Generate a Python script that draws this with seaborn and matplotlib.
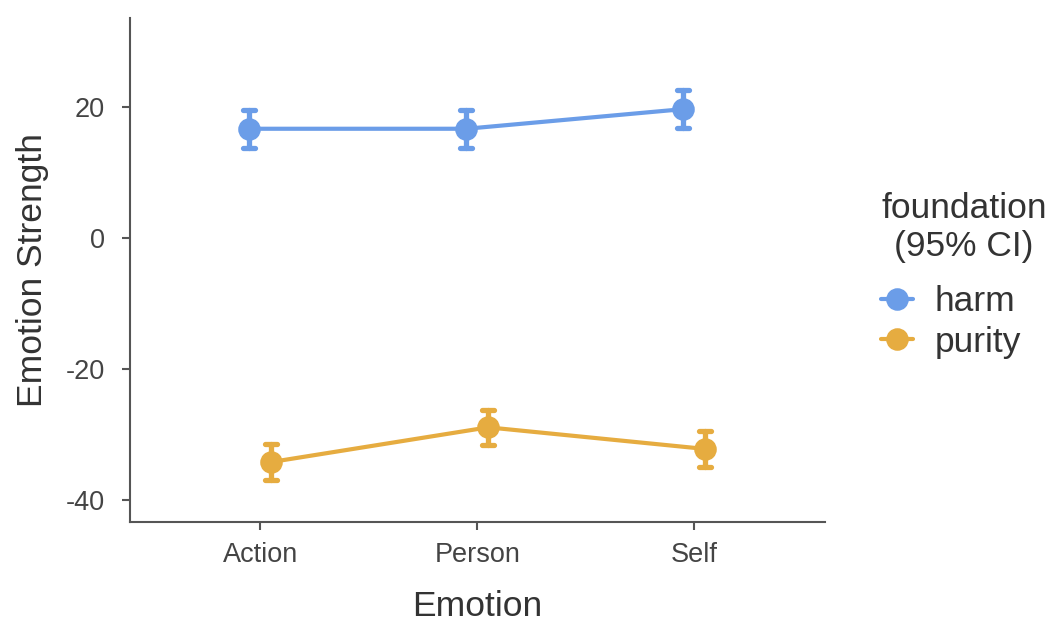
import matplotlib
matplotlib.use("Agg")
import matplotlib.pyplot as plt
import seaborn as sns
import pandas as pd

# Estimated marginal means and 95% CI half-widths
emotions = ["Action", "Person", "Self"]
foundations = ["harm", "purity"]
harm_means = [16.7, 16.7, 19.7]
harm_ci = [2.9, 2.9, 2.9]
purity_means = [-34.2, -28.9, -32.2]
purity_ci = [2.7, 2.7, 2.7]
palette = {"harm": "#6B9DE8", "purity": "#E6AC40"}

# Long table: lower bound, mean, upper bound per cell (median = mean, range = CI)
rows = []
for name, means, cis in [("harm", harm_means, harm_ci), ("purity", purity_means, purity_ci)]:
    for emo, m, c in zip(emotions, means, cis):
        for v in (m - c, m, m + c):
            rows.append({"Emotion": emo, "foundation": name, "value": v})
df = pd.DataFrame(rows)

sns.set_theme(style="ticks")
plt.rcParams["font.family"] = ["Liberation Sans", "DejaVu Sans"]
plt.rcParams["axes.unicode_minus"] = False

fig = plt.figure(figsize=(10.49, 6.24), dpi=100)
ax = fig.add_axes([0.124, 0.163, 0.662, 0.808])

sns.pointplot(
    data=df, x="Emotion", y="value", hue="foundation",
    order=emotions, hue_order=foundations, palette=palette,
    estimator="median", errorbar=("pi", 100), dodge=0.1,
    markers="o", markersize=14, linewidth=3,
    err_kws={"linewidth": 3.8}, capsize=0.055, ax=ax,
)

ax.set_xlim(-0.6, 2.6)
ax.set_ylim(-43.4, 33.6)
ax.set_yticks([-40, -20, 0, 20])
ax.set_xlabel("Emotion", fontsize=25.5, color="#333333", labelpad=16)
ax.set_ylabel("Emotion Strength", fontsize=25.5, color="#333333", labelpad=12)

for side in ("top", "right"):
    ax.spines[side].set_visible(False)
for side in ("left", "bottom"):
    ax.spines[side].set_color("#555555")
    ax.spines[side].set_linewidth(1.5)
ax.tick_params(axis="both", labelsize=19.5, colors="#555555", labelcolor="#444444",
               length=6, width=1.5)
ax.tick_params(axis="x", pad=8)
ax.tick_params(axis="y", pad=12)

handles, labels = ax.get_legend_handles_labels()
ax.legend(handles, labels, title="foundation\n(95% CI)", loc="center left",
          bbox_to_anchor=(1.056, 0.49), frameon=False, fontsize=25.5,
          title_fontsize=25.5, handlelength=0.9, handletextpad=0.6,
          labelspacing=0.22, borderpad=0, alignment="left")
leg = ax.get_legend()
leg._legend_box.sep = 16
leg.get_title().set_multialignment("center")
leg.get_title().set_color("#333333")
for t in leg.get_texts():
    t.set_color("#333333")

fig.savefig("out.png", dpi=100)
